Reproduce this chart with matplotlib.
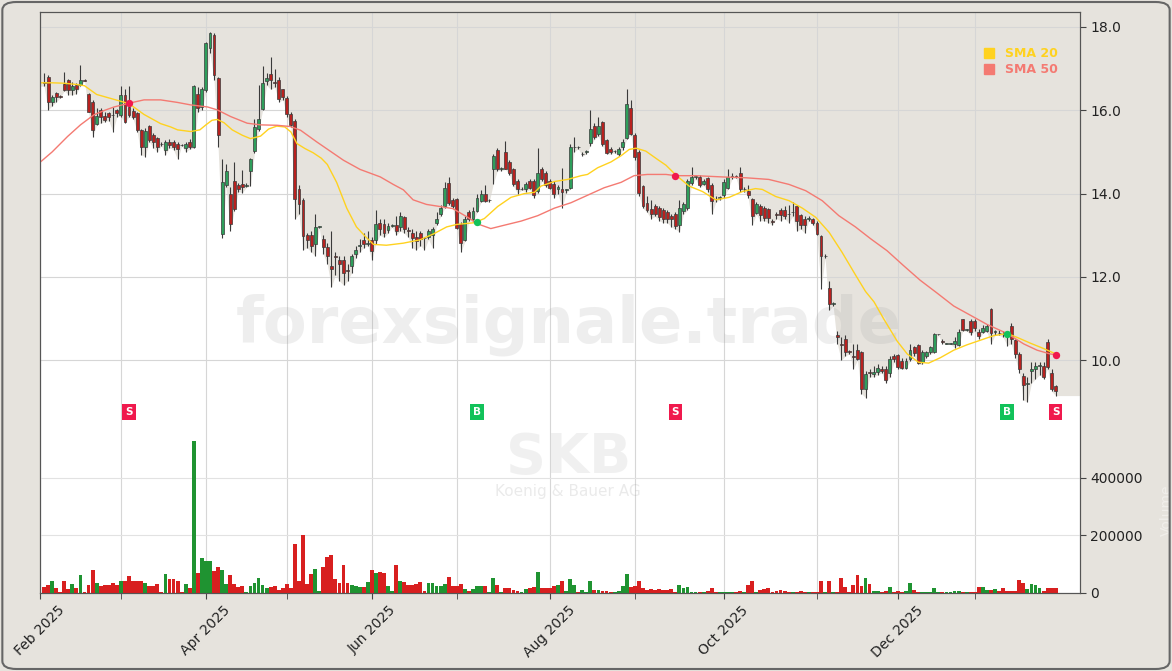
import matplotlib.pyplot as plt
import numpy as np
import pandas as pd
from matplotlib.lines import Line2D
from matplotlib.patches import FancyBboxPatch
from matplotlib.ticker import FormatStrFormatter

# trading calendar (XETRA holidays removed)
holidays = ["2025-04-18", "2025-04-21", "2025-05-01", "2025-12-24",
            "2025-12-25", "2025-12-26", "2025-12-31", "2026-01-01"]
dates = pd.bdate_range("2025-02-03", "2026-01-29")
dates = dates[~dates.isin(pd.to_datetime(holidays))]

opens = [16.68, 16.80, 16.21, 16.41, 16.33, 16.64, 16.72, 16.48, 16.61, 16.61,
         16.72, 16.40, 16.21, 15.68, 16.00, 15.87, 15.93, 15.89, 16.00, 15.89,
         16.37, 16.09, 15.99, 15.93, 15.53, 15.13, 15.63, 15.41, 15.33, 15.20,
         15.05, 15.25, 15.23, 15.20, 15.17, 15.10, 15.25, 15.13, 16.39, 16.09,
         16.49, 17.49, 17.81, 16.77, 13.02, 14.20, 14.00, 14.30, 14.20, 14.22,
         14.19, 14.54, 15.02, 15.55, 16.04, 16.70, 16.88, 16.67, 16.73, 16.50,
         16.30, 15.90, 15.75, 14.10, 13.85, 13.00, 13.00, 12.80, 13.20, 12.90,
         12.72, 12.25, 12.50, 12.40, 12.40, 12.16, 12.25, 12.55, 12.75, 12.88,
         12.80, 12.88, 12.88, 13.30, 13.28, 13.12, 13.23, 13.25, 13.20, 13.43,
         13.12, 13.05, 12.95, 13.05, 12.94, 12.95, 13.00, 13.30, 13.50, 13.70,
         14.25, 13.85, 13.87, 13.28, 12.88, 13.55, 13.38, 13.58, 13.83, 13.98,
         13.84, 14.58, 15.05, 14.60, 15.00, 14.76, 14.60, 14.30, 14.11, 14.10,
         14.30, 14.31, 14.07, 14.60, 14.49, 14.31, 14.24, 14.12, 14.10, 14.08,
         14.14, 15.11, 15.12, 14.95, 15.00, 15.22, 15.62, 15.42, 15.71, 15.29,
         15.08, 15.02, 14.96, 15.11, 15.33, 16.06, 15.40, 15.00, 14.18, 13.78,
         13.63, 13.70, 13.65, 13.60, 13.56, 13.45, 13.50, 13.25, 13.58, 13.65,
         14.25, 14.40, 14.40, 14.24, 14.38, 14.21, 13.88, 13.90, 13.96, 14.14,
         14.40, 14.42, 14.49, 14.10, 14.07, 13.87, 13.54, 13.71, 13.65, 13.63,
         13.33, 13.50, 13.60, 13.60, 13.52, 13.55, 13.69, 13.49, 13.40, 13.40,
         13.38, 13.30, 12.98, 12.50, 11.74, 11.36, 10.60, 10.40, 10.50, 10.21,
         10.09, 10.24, 10.19, 9.31, 9.72, 9.68, 9.71, 9.78, 9.79, 9.70,
         10.09, 10.12, 9.99, 9.82, 10.02, 10.32, 10.37, 9.95, 10.09, 10.19,
         10.20, 10.62, 10.46, 10.40, 10.40, 10.38, 10.37, 10.99, 10.73, 10.95,
         10.95, 10.68, 10.68, 10.70, 11.24, 10.68, 10.66, 10.64, 10.64, 10.83,
         10.48, 10.15, 9.63, 9.42, 9.75, 9.80, 9.85, 9.85, 10.43, 9.70, 9.37]
highs = [16.90, 16.85, 16.37, 16.45, 16.36, 16.93, 16.75, 16.69, 16.65, 17.08,
         16.74, 16.42, 16.25, 16.05, 16.05, 15.97, 15.97, 16.09, 16.02, 16.59,
         16.51, 16.59, 16.05, 15.97, 15.55, 15.57, 15.65, 15.45, 15.35, 15.25,
         15.29, 15.30, 15.28, 15.25, 15.20, 15.25, 15.30, 16.60, 16.56, 16.55,
         17.65, 17.87, 17.85, 16.80, 14.82, 14.70, 14.17, 14.77, 14.25, 14.57,
         14.25, 14.85, 15.79, 16.60, 17.06, 16.90, 17.28, 17.00, 16.80, 16.52,
         16.35, 15.95, 15.80, 14.20, 13.90, 13.05, 13.10, 13.50, 13.22, 13.00,
         12.82, 13.10, 12.60, 12.50, 12.50, 12.30, 12.55, 12.75, 12.90, 13.05,
         13.10, 12.95, 13.60, 13.40, 13.40, 13.30, 13.26, 13.45, 13.55, 13.45,
         13.20, 13.15, 13.10, 13.10, 12.96, 13.15, 13.20, 13.55, 13.72, 14.28,
         14.40, 13.90, 13.90, 13.32, 13.45, 13.60, 13.68, 14.00, 14.09, 14.20,
         13.87, 14.95, 15.10, 14.65, 15.26, 14.80, 14.62, 14.35, 14.15, 14.28,
         14.35, 14.35, 15.10, 14.65, 14.55, 14.35, 14.30, 14.20, 14.62, 14.12,
         15.20, 15.35, 15.15, 15.00, 15.05, 16.00, 15.70, 15.85, 15.75, 15.32,
         15.12, 15.05, 15.12, 15.30, 16.50, 16.25, 15.45, 15.05, 14.20, 13.95,
         13.85, 13.75, 13.70, 13.65, 13.60, 13.50, 13.55, 13.85, 13.80, 14.35,
         14.65, 14.45, 14.45, 14.35, 14.40, 14.25, 13.95, 13.95, 14.35, 14.60,
         14.50, 14.45, 14.65, 14.15, 14.20, 13.90, 13.80, 13.75, 13.70, 13.66,
         13.40, 13.55, 13.65, 13.70, 13.72, 13.80, 13.72, 13.50, 13.45, 13.45,
         13.42, 13.35, 13.00, 12.55, 11.90, 11.40, 10.70, 10.55, 10.60, 10.25,
         10.40, 10.40, 10.22, 9.75, 9.80, 9.85, 9.90, 9.85, 9.85, 10.10,
         10.15, 10.15, 10.05, 10.05, 10.40, 10.35, 10.40, 10.25, 10.22, 10.35,
         10.65, 10.64, 10.50, 10.42, 10.42, 10.55, 10.75, 11.00, 10.76, 11.00,
         11.00, 10.75, 10.85, 10.88, 11.25, 10.72, 10.72, 10.70, 10.68, 10.90,
         10.50, 10.20, 9.70, 9.60, 9.95, 9.95, 9.95, 9.95, 10.50, 9.80, 9.40]
lows = [16.58, 16.01, 16.11, 16.20, 16.30, 16.47, 16.37, 16.37, 16.40, 16.58,
        16.70, 15.95, 15.37, 15.65, 15.69, 15.73, 15.75, 15.49, 15.85, 15.85,
        15.69, 15.85, 15.80, 15.49, 14.93, 14.89, 15.25, 15.10, 15.00, 15.15,
        14.93, 15.10, 15.05, 14.82, 15.14, 15.00, 15.07, 15.09, 15.97, 16.00,
        16.45, 17.37, 16.73, 15.13, 12.94, 14.17, 13.10, 13.58, 14.05, 14.02,
        14.15, 14.18, 14.98, 15.50, 16.00, 16.60, 16.50, 16.55, 16.20, 16.25,
        15.85, 15.60, 13.40, 13.50, 12.65, 12.70, 12.60, 12.50, 13.18, 12.55,
        12.30, 11.75, 12.05, 11.90, 11.80, 11.90, 12.10, 12.45, 12.60, 12.70,
        12.75, 12.40, 12.80, 13.00, 12.95, 13.05, 13.20, 13.00, 13.10, 13.05,
        12.95, 12.70, 12.65, 12.75, 12.65, 12.90, 12.70, 13.25, 13.45, 13.65,
        13.72, 13.65, 13.15, 12.60, 12.85, 13.35, 13.32, 13.55, 13.80, 13.80,
        13.80, 14.23, 14.55, 14.55, 14.58, 14.45, 14.18, 14.00, 14.08, 14.05,
        14.10, 13.90, 14.02, 14.30, 14.15, 14.10, 13.90, 14.00, 13.65, 14.02,
        14.10, 15.00, 15.08, 14.90, 14.95, 15.15, 15.30, 15.38, 15.15, 14.95,
        14.95, 14.98, 14.90, 15.05, 15.30, 15.40, 14.80, 13.95, 13.65, 13.55,
        13.40, 13.45, 13.35, 13.30, 13.30, 13.20, 13.15, 13.08, 13.50, 13.60,
        14.20, 14.35, 14.15, 14.20, 14.05, 13.50, 13.80, 13.85, 13.90, 14.10,
        14.35, 14.38, 14.05, 14.05, 13.90, 13.25, 13.50, 13.35, 13.35, 13.30,
        13.25, 13.40, 13.35, 13.40, 13.30, 13.45, 13.10, 13.15, 13.05, 13.35,
        13.25, 13.00, 11.70, 12.45, 11.20, 11.30, 10.40, 10.00, 10.10, 10.15,
        9.80, 10.00, 9.20, 9.10, 9.60, 9.60, 9.65, 9.70, 9.45, 9.60,
        9.95, 9.80, 9.78, 9.80, 9.98, 10.10, 9.90, 9.90, 10.05, 10.15,
        10.18, 10.60, 10.40, 10.38, 10.38, 10.30, 10.35, 10.70, 10.70, 10.60,
        10.70, 10.50, 10.65, 10.68, 10.40, 10.60, 10.60, 10.55, 10.35, 10.40,
        10.05, 9.70, 9.04, 9.00, 9.45, 9.55, 9.65, 9.55, 9.80, 9.25, 9.15]
closes = [16.65, 16.21, 16.32, 16.32, 16.32, 16.49, 16.48, 16.59, 16.51, 16.73,
          16.71, 15.97, 15.52, 15.86, 15.85, 15.76, 15.84, 15.88, 15.93, 16.37,
          15.71, 15.89, 15.85, 15.52, 15.13, 15.51, 15.29, 15.25, 15.13, 15.19,
          15.25, 15.17, 15.13, 15.07, 15.16, 15.20, 15.12, 16.59, 16.05, 16.51,
          17.61, 17.85, 16.85, 15.41, 14.28, 14.55, 13.26, 13.62, 14.11, 14.15,
          14.20, 14.82, 15.60, 15.80, 16.66, 16.78, 16.73, 16.66, 16.26, 16.33,
          15.90, 15.65, 13.87, 13.74, 12.98, 12.88, 12.75, 13.20, 13.20, 12.72,
          12.50, 12.20, 12.48, 12.30, 12.10, 12.14, 12.50, 12.65, 12.76, 12.78,
          12.81, 12.63, 13.28, 13.14, 13.05, 13.23, 13.24, 13.10, 13.47, 13.14,
          13.10, 12.94, 12.85, 12.90, 12.93, 13.10, 13.15, 13.40, 13.65, 14.13,
          13.78, 13.70, 13.18, 12.81, 13.40, 13.40, 13.58, 13.90, 13.98, 13.83,
          13.85, 14.90, 14.58, 14.60, 14.60, 14.49, 14.22, 14.10, 14.11, 14.24,
          14.14, 13.96, 14.49, 14.34, 14.21, 14.14, 13.99, 14.15, 14.05, 14.10,
          15.11, 15.12, 15.11, 14.96, 15.00, 15.55, 15.35, 15.62, 15.20, 14.98,
          15.00, 15.02, 15.08, 15.24, 16.15, 15.42, 14.89, 14.02, 13.69, 13.60,
          13.52, 13.50, 13.43, 13.38, 13.38, 13.38, 13.22, 13.65, 13.74, 14.31,
          14.40, 14.40, 14.21, 14.31, 14.11, 13.83, 13.86, 13.92, 14.27, 14.40,
          14.42, 14.41, 14.11, 14.12, 13.96, 13.47, 13.74, 13.49, 13.42, 13.41,
          13.32, 13.49, 13.49, 13.45, 13.50, 13.56, 13.34, 13.25, 13.25, 13.41,
          13.30, 13.03, 12.50, 12.50, 11.34, 11.36, 10.55, 10.37, 10.20, 10.20,
          10.07, 10.02, 9.31, 9.66, 9.70, 9.72, 9.82, 9.74, 9.53, 10.03,
          10.02, 9.84, 9.82, 9.99, 10.24, 10.17, 9.93, 10.19, 10.19, 10.32,
          10.62, 10.62, 10.44, 10.40, 10.40, 10.45, 10.68, 10.73, 10.73, 10.68,
          10.77, 10.57, 10.77, 10.83, 10.65, 10.68, 10.65, 10.62, 10.62, 10.50,
          10.15, 9.80, 9.40, 9.45, 9.78, 9.85, 9.88, 9.59, 9.84, 9.31, 9.26]
volumes_k = [22, 28, 40, 16, 5, 42, 14, 32, 18, 63,
             4, 28, 81, 35, 25, 28, 27, 35, 29, 42,
             42, 60, 42, 40, 40, 35, 25, 25, 32, 4,
             67, 49, 49, 42, 4, 32, 18, 530, 70, 123,
             112, 112, 77, 91, 81, 32, 63, 32, 22, 25,
             4, 25, 36, 52, 27, 17, 22, 25, 12, 17,
             31, 16, 171, 41, 200, 31, 66, 83, 8, 90,
             125, 131, 48, 34, 96, 34, 27, 25, 21, 21,
             38, 79, 70, 74, 70, 25, 8, 99, 40, 38,
             27, 27, 31, 38, 8, 34, 34, 25, 25, 30,
             55, 25, 25, 31, 14, 8, 14, 25, 25, 25,
             4, 51, 27, 4, 16, 16, 12, 8, 4, 14,
             18, 22, 74, 18, 16, 18, 25, 29, 42, 6,
             47, 29, 5, 12, 4, 40, 12, 12, 8, 8,
             5, 4, 8, 25, 67, 22, 25, 42, 18, 12,
             14, 12, 14, 12, 12, 14, 5, 27, 18, 21,
             5, 3, 3, 3, 8, 16, 3, 3, 3, 5,
             3, 3, 8, 3, 29, 42, 5, 12, 14, 16,
             4, 8, 9, 8, 3, 5, 5, 8, 5, 3,
             5, 5, 42, 4, 42, 4, 4, 51, 22, 4,
             29, 61, 25, 51, 31, 8, 8, 4, 6, 21,
             5, 8, 4, 8, 34, 10, 4, 4, 4, 4,
             16, 3, 3, 3, 3, 6, 6, 3, 3, 4,
             3, 21, 21, 10, 10, 14, 8, 18, 8, 8,
             8, 46, 36, 15, 32, 28, 16, 6, 18, 18, 18]

# moving averages (trading-day position, value)
sma20_pos = [-1, 2, 5, 8, 10, 13, 17, 21, 24.7, 28.8, 31.3, 33, 36.2, 38.5, 40, 41.5,
             42.8, 44.5, 46.5, 49, 51, 53.5, 55.5, 57.5, 59.5, 61, 62.5, 64.5, 66.5,
             68.5, 70, 72.3, 74.8, 77.2, 79.3, 81.4, 84.6, 88.8, 92.9, 96.2, 99.5,
             102, 106.3, 108.8, 112.1, 115.4, 118.7, 121.2, 122.8, 126.1, 129.4,
             132.7, 134.3, 136.8, 140.1, 142.6, 144.6, 146.3, 148.7, 151.6, 153.7,
             156.1, 159.4, 162.7, 166, 169.3, 172.6, 175.8, 177.5, 180.8, 184.1,
             187.4, 190.7, 194, 197.2, 200.5, 203, 205.1, 207.5, 210.8, 213.3,
             216.1, 218.6, 221.5, 224.8, 228.1, 231.4, 234.7, 238, 240.4, 243.7,
             247, 250]
sma20_val = [16.66, 16.66, 16.65, 16.62, 16.59, 16.38, 16.27, 16.16, 15.90, 15.68, 15.60,
             15.53, 15.49, 15.53, 15.65, 15.76, 15.78, 15.70, 15.53, 15.40, 15.32, 15.38,
             15.55, 15.62, 15.60, 15.48, 15.20, 15.08, 14.98, 14.85, 14.70, 14.27, 13.65,
             13.20, 12.98, 12.78, 12.76, 12.81, 12.89, 13.03, 13.20, 13.26, 13.30, 13.40,
             13.69, 13.91, 14.00, 14.03, 14.18, 14.29, 14.34, 14.43, 14.46, 14.62, 14.76,
             14.91, 15.06, 15.09, 15.02, 14.82, 14.68, 14.45, 14.18, 14.05, 13.85, 13.91,
             14.05, 14.12, 14.10, 13.93, 13.83, 13.65, 13.43, 13.07, 12.59, 12.05, 11.65,
             11.40, 10.99, 10.46, 10.15, 9.95, 9.93, 10.06, 10.24, 10.37, 10.48, 10.59,
             10.64, 10.55, 10.41, 10.28, 10.15]
sma50_pos = [-1, 2, 5.8, 9, 12.3, 15, 17.3, 21, 24.7, 28.8, 32.9, 36.2, 40.4, 42.8, 46.1,
             50.2, 53.5, 57.6, 60.9, 63.4, 67.4, 70.7, 74, 78.1, 83.1, 86.3, 88.8, 91.2,
             94.5, 97.8, 101, 104.7, 107.2, 110.4, 113.7, 117.9, 122, 126.1, 130.2,
             134.3, 138.4, 142.6, 145.8, 149.1, 153.7, 156.1, 161, 167.6, 173.4, 179.1,
             184.1, 188.2, 192.3, 196.4, 200.5, 204.2, 208.3, 212.4, 216.5, 220.7,
             224.8, 228.9, 233, 238, 242.1, 245.4, 248.6, 250]
sma50_val = [14.75, 15.00, 15.37, 15.65, 15.89, 16.00, 16.08, 16.17, 16.25, 16.25, 16.19,
             16.13, 16.08, 16.01, 15.85, 15.69, 15.65, 15.64, 15.61, 15.52, 15.24, 15.02,
             14.80, 14.58, 14.40, 14.22, 14.09, 13.85, 13.74, 13.69, 13.64, 13.43, 13.27,
             13.16, 13.24, 13.34, 13.47, 13.65, 13.78, 13.96, 14.14, 14.27, 14.43, 14.46,
             14.46, 14.43, 14.43, 14.40, 14.38, 14.34, 14.22, 14.07, 13.83, 13.47, 13.20,
             12.92, 12.63, 12.27, 11.92, 11.61, 11.30, 11.08, 10.86, 10.64, 10.39, 10.24,
             10.15, 10.13]

# crossover signals
sig_pos = [21, 107, 156, 238, 250]
sig_kind = ["S", "B", "S", "B", "S"]
sig_price = [16.17, 13.31, 14.43, 10.63, 10.13]

BG = "#e6e3dd"
UP, DOWN = "#2e9e5b", "#b8211f"
VUP, VDOWN = "#1f9331", "#d81f1f"
SELL, BUY = "#f0194d", "#12c25a"

o, h, l, c = map(np.array, (opens, highs, lows, closes))
vol = np.array(volumes_k) * 1000
x = np.arange(len(c))
up = c >= o

fig = plt.figure(figsize=(11.72, 6.71), dpi=100, facecolor=BG)
ax = fig.add_axes([40 / 1172, 1 - 593 / 671, 1040 / 1172, 581 / 671])
ax.set_facecolor(BG)
axv = ax.twinx()

xmin, xmax = -1, len(c) + 5
ax.set_xlim(xmin, xmax)
ax.set_ylim(4.41, 18.36)
axv.set_ylim(0, 2.02e6)

# white area under the lows
ax.fill_between(np.r_[xmin, x, xmax], np.r_[l[0], l, l[-1]], 4.41,
                color="white", lw=0, zorder=0.2)

# candles
ax.vlines(x, l, h, color="#3a3a3a", lw=0.8, zorder=2)
body = np.maximum(np.abs(c - o), 0.012)
ax.bar(x, body, 0.72, bottom=np.minimum(o, c), color=np.where(up, UP, DOWN),
       edgecolor="#3a3a3a", linewidth=0.5, zorder=3)

ax.plot(sma20_pos, sma20_val, color="#ffd21f", lw=1.0, zorder=4)
ax.plot(sma50_pos, sma50_val, color="#f47a72", lw=1.0, zorder=4)

for p, k, v in zip(sig_pos, sig_kind, sig_price):
    col = SELL if k == "S" else BUY
    ax.scatter(p, v, s=28, color=col, zorder=6, lw=0)
    ax.text(p, 8.755, k, color="white", fontsize=7.5, fontweight="bold",
            ha="center", va="center", zorder=6,
            bbox=dict(boxstyle="square,pad=0.28", fc=col, ec="none"))

# volume
axv.bar(x, vol, 0.95, color=np.where(up, VUP, VDOWN), lw=0, zorder=2)

# axes styling
ax.yaxis.tick_right()
ax.set_yticks([10, 12, 14, 16, 18])
ax.yaxis.set_major_formatter(FormatStrFormatter("%.1f"))
axv.set_yticks([0, 200000, 400000])
axv.set_yticklabels(["0", "200000", "400000"])

month_first = [i for i in range(len(dates)) if i == 0 or dates[i].month != dates[i - 1].month]
major = [i - 1 for i in month_first if dates[i].month % 2 == 0]
minor = [i - 1 for i in month_first if dates[i].month % 2 == 1]
ax.set_xticks(major, [dates[i + 1].strftime("%b %Y") for i in major])
ax.set_xticks(minor, minor=True)
plt.setp(ax.get_xticklabels(), rotation=45, ha="center")

for a in (ax, axv):
    a.tick_params(which="both", length=4, color="#444", labelsize=10, labelcolor="#222")
    for s in a.spines.values():
        s.set_color("#555")
ax.grid(True, which="both", axis="x", color="#d6d6d6", lw=0.8)
ax.grid(True, axis="y", color="#d6d6d6", lw=0.8)
axv.grid(True, axis="y", color="#e2e2e2", lw=0.8)
ax.set_axisbelow(True)

axv.set_ylabel("Volume", color="#f1efeb", fontsize=10)
axv.yaxis.set_label_coords(1.077, 0.143)

# watermarks
ax.text(0.508, 0.461, "forexsignale.trade", transform=ax.transAxes, fontsize=46,
        fontweight="bold", color="#9a9a9a", alpha=0.16, ha="center", va="center", zorder=1)
ax.text(0.508, 0.232, "SKB", transform=ax.transAxes, fontsize=40,
        fontweight="bold", color="#9a9a9a", alpha=0.14, ha="center", va="center", zorder=1)
ax.text(0.508, 0.175, "Koenig & Bauer AG", transform=ax.transAxes, fontsize=11,
        color="#9a9a9a", alpha=0.2, ha="center", va="center", zorder=1)

handles = [Line2D([], [], marker="s", ls="none", color="#ffd21f", ms=7),
           Line2D([], [], marker="s", ls="none", color="#f47a72", ms=7)]
ax.legend(handles, ["SMA 20", "SMA 50"], loc="upper right", bbox_to_anchor=(0.984, 0.948),
          frameon=False, handletextpad=0.3, labelspacing=0.25, borderaxespad=0,
          labelcolor=["#ffd21f", "#f47a72"], prop={"weight": "bold", "size": 9})

fig.patches.append(FancyBboxPatch((0.002, 0.003), 0.996, 0.994, transform=fig.transFigure,
                                  boxstyle="round,pad=0,rounding_size=0.012",
                                  fc="none", ec="#666", lw=1.5))

fig.savefig("out.png", dpi=100, facecolor=BG)
